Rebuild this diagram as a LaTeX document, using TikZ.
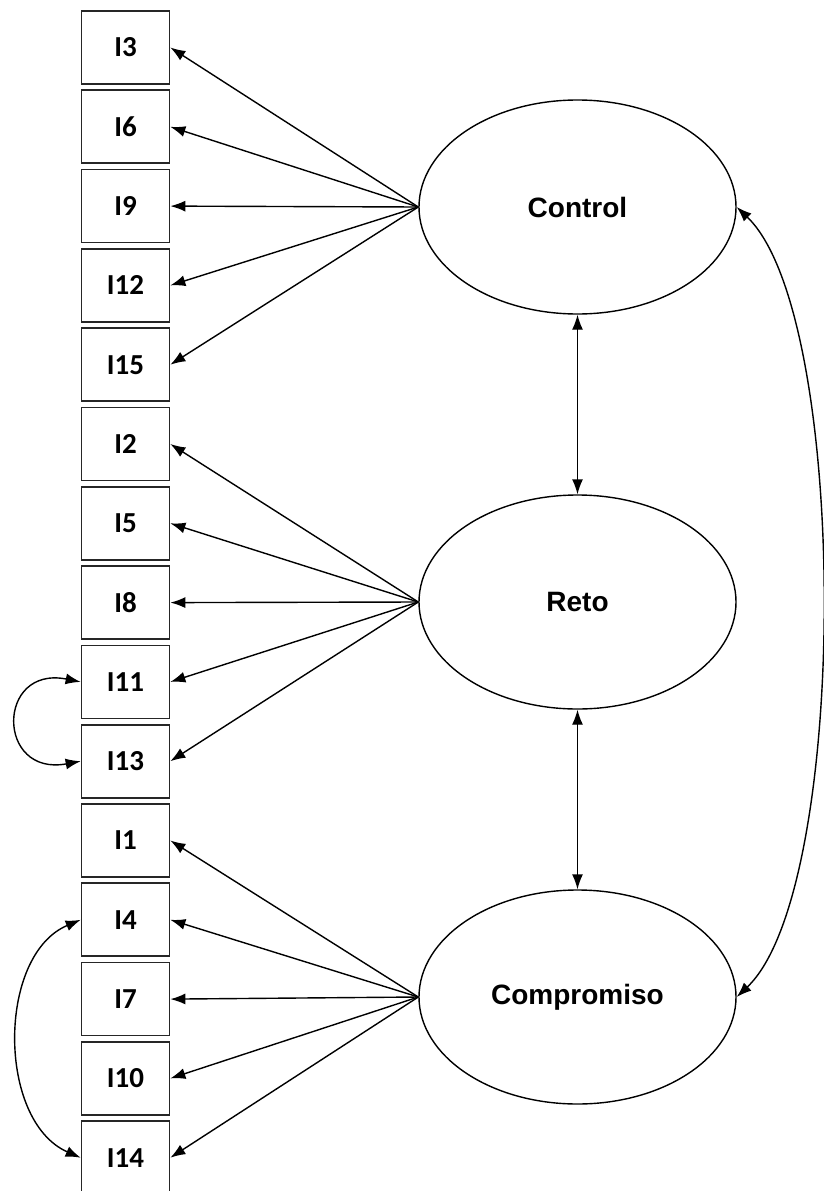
\documentclass[tikz,border=0pt]{standalone}
\usepackage{fontspec}
\setmainfont{Liberation Sans}
\newfontfamily\boxfont{Carlito}
\usetikzlibrary{shapes.geometric,arrows.meta}
\begin{document}
\begin{tikzpicture}[x=1pt,y=-1pt,
  item/.style={draw=black!85,line width=1.7pt,minimum width=88pt,minimum height=73pt,inner sep=0pt,font=\boxfont\bfseries\fontsize{29}{32}\selectfont},
  latent/.style={draw=black,line width=1.4pt,ellipse,minimum width=317pt,minimum height=214pt,inner sep=0pt,font=\bfseries\fontsize{28}{32}\selectfont},
  arr/.style={line width=1.4pt,-{Latex[length=15pt,width=11pt]}},
  darr/.style={line width=1.4pt,{Latex[length=15pt,width=11pt]}-{Latex[length=15pt,width=11pt]}}]
\useasboundingbox (0,0) rectangle (824,1191);
\clip (0,0) rectangle (824,1191);
\foreach \n [count=\i from 0] in {3,6,9,12,15,2,5,8,11,13,1,4,7,10,14}
  \node[item] (I\n) at (125.5,{47.5+79.3*\i}) {I\n};
\node[latent] (C) at (577.5,207) {Control};
\node[latent] (R) at (577.5,602) {Reto};
\node[latent] (M) at (577.5,997) {Compromiso};
\foreach \n in {3,6,9,12,15} \draw[arr] (C.west) -- (I\n.east);
\foreach \n in {2,5,8,11,13} \draw[arr] (R.west) -- (I\n.east);
\foreach \n in {1,4,7,10,14} \draw[arr] (M.west) -- (I\n.east);
\draw[darr] (C.south) -- (R.north);
\draw[darr] (R.south) -- (M.north);
\draw[darr] (C.east) .. controls (850,315) and (850,890) .. (M.east);
\draw[darr] (I11.west) .. controls (-4,665) and (-4,777) .. (I13.west);
\draw[darr] (I4.west) .. controls (-3,955) and (-3,1121) .. (I14.west);
\end{tikzpicture}
\end{document}
